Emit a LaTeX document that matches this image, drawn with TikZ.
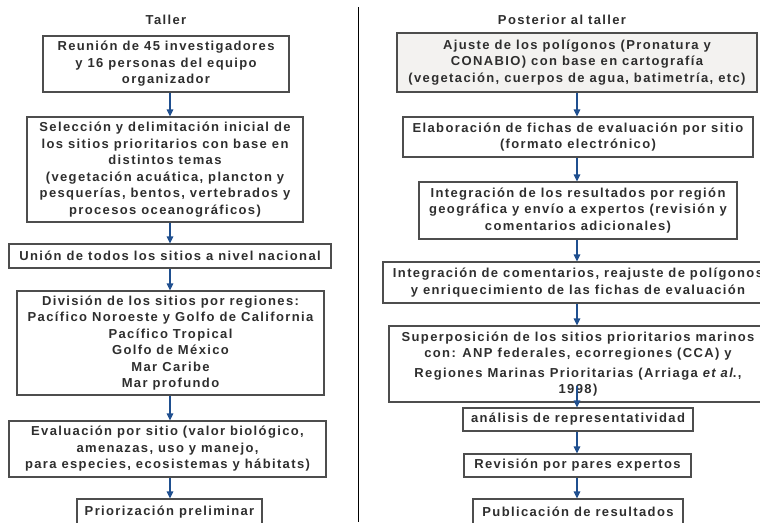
\documentclass[tikz,border=0pt]{standalone}
\usepackage{fontspec}
\setmainfont{Liberation Sans}[LetterSpace=10.5]
\usetikzlibrary{arrows.meta}

\definecolor{txtgray}{HTML}{2E2E2E}
\definecolor{boxgray}{HTML}{4D4D4D}
\definecolor{arrblue}{HTML}{1F4F8F}
\definecolor{fillgray}{HTML}{F3F2F0}

\tikzset{
    box/.style={draw=boxgray, line width=1.1pt, align=center, inner sep=0pt,
        text=txtgray, font=\bfseries\fontsize{13}{16.5}\selectfont},
    hdr/.style={text=txtgray, font=\bfseries\fontsize{13}{16.5}\selectfont},
    arr/.style={draw=arrblue, line width=1.1pt, -{Triangle[width=6.5pt,length=7pt,fill=arrblue]}},
}

\begin{document}
\begin{tikzpicture}[x=1pt, y=-1pt]
    \useasboundingbox (0,0) rectangle (760,522);
    \coordinate (lcol) at (170,0);
    \coordinate (rcol) at (577,0);
    \coordinate (septop) at (358,7);
    \coordinate (sepbot) at (358,522);
    \draw[line width=1pt] (septop) -- (sepbot);

    % Taller
    \node[hdr] (ltitle) at (166,20) {Taller};
    \node[box, minimum width=246pt, minimum height=56pt] (l1) at (166,64)
        {Reunión de 45 investigadores\\ y 16 personas del equipo\\ organizador};
    \node[box, minimum width=276pt, minimum height=105pt] (l2) at (165,169.5)
        {Selección y delimitación inicial de\\ los sitios prioritarios con base en\\ distintos temas\\
         (vegetación acuática, plancton y\\ pesquerías, bentos, vertebrados y\\ procesos oceanográficos)};
    \node[box, minimum width=322pt, minimum height=24pt] (l3) at (170,256)
        {Unión de todos los sitios a nivel nacional};
    \node[box, minimum width=307pt, minimum height=104pt] (l4) at (170.5,343)
        {División de los sitios por regiones:\\ Pacífico Noroeste y Golfo de California\\ Pacífico Tropical\\
         Golfo de México\\ Mar Caribe\\ Mar profundo};
    \node[box, minimum width=317pt, minimum height=56pt] (l5) at (167.5,449)
        {Evaluación por sitio (valor biológico,\\ amenazas, uso y manejo,\\ para especies, ecosistemas y hábitats)};
    \node[box, minimum width=185pt, minimum height=26pt] (l6) at (169.5,512)
        {Priorización preliminar};

    % Posterior al taller
    \node[hdr] (rtitle) at (562,20) {Posterior al taller};
    \node[box, fill=fillgray, minimum width=360pt, minimum height=59pt] (r1) at (577,62.5)
        {Ajuste de los polígonos (Pronatura y\\ CONABIO) con base en cartografía\\ (vegetación, cuerpos de agua, batimetría, etc)};
    \node[box, minimum width=350pt, minimum height=40pt] (r2) at (578,137)
        {Elaboración de fichas de evaluación por sitio\\ (formato electrónico)};
    \node[box, minimum width=318pt, minimum height=57pt] (r3) at (578,210.5)
        {Integración de los resultados por región\\ geográfica y envío a expertos (revisión y\\ comentarios adicionales)};
    \node[box, minimum width=390pt, minimum height=41pt] (r4) at (578,282.5)
        {Integración de comentarios, reajuste de polígonos\\ y enriquecimiento de las fichas de evaluación};
    \node[box, minimum width=378pt, minimum height=76pt] (r5) at (578,364)
        {Superposición de los sitios prioritarios marinos\\ con: ANP federales, ecorregiones (CCA) y\\[3pt]
         Regiones Marinas Prioritarias (Arriaga \textit{et al}.,\\ 1998)};
    \node[box, minimum width=230pt, minimum height=23pt] (r6) at (578,419.5)
        {análisis de representatividad};
    \node[box, minimum width=227pt, minimum height=23pt] (r7) at (577.5,465.5)
        {Revisión por pares expertos};
    \node[box, minimum width=210pt, minimum height=26pt] (r8) at (578,512)
        {Publicación de resultados};

    \draw[arr] (l1.south -| lcol) -- (l2.north -| lcol);
    \draw[arr] (l2.south -| lcol) -- (l3.north -| lcol);
    \draw[arr] (l3.south -| lcol) -- (l4.north -| lcol);
    \draw[arr] (l4.south -| lcol) -- (l5.north -| lcol);
    \draw[arr] (l5.south -| lcol) -- (l6.north -| lcol);

    \draw[arr] (r1.south -| rcol) -- (r2.north -| rcol);
    \draw[arr] (r2.south -| rcol) -- (r3.north -| rcol);
    \draw[arr] (r3.south -| rcol) -- (r4.north -| rcol);
    \draw[arr] (r4.south -| rcol) -- (r5.north -| rcol);
    \draw[arr] ([yshift=17pt]r5.south -| rcol) -- (r6.north -| rcol);
    \draw[arr] (r6.south -| rcol) -- (r7.north -| rcol);
    \draw[arr] (r7.south -| rcol) -- (r8.north -| rcol);
\end{tikzpicture}
\end{document}
